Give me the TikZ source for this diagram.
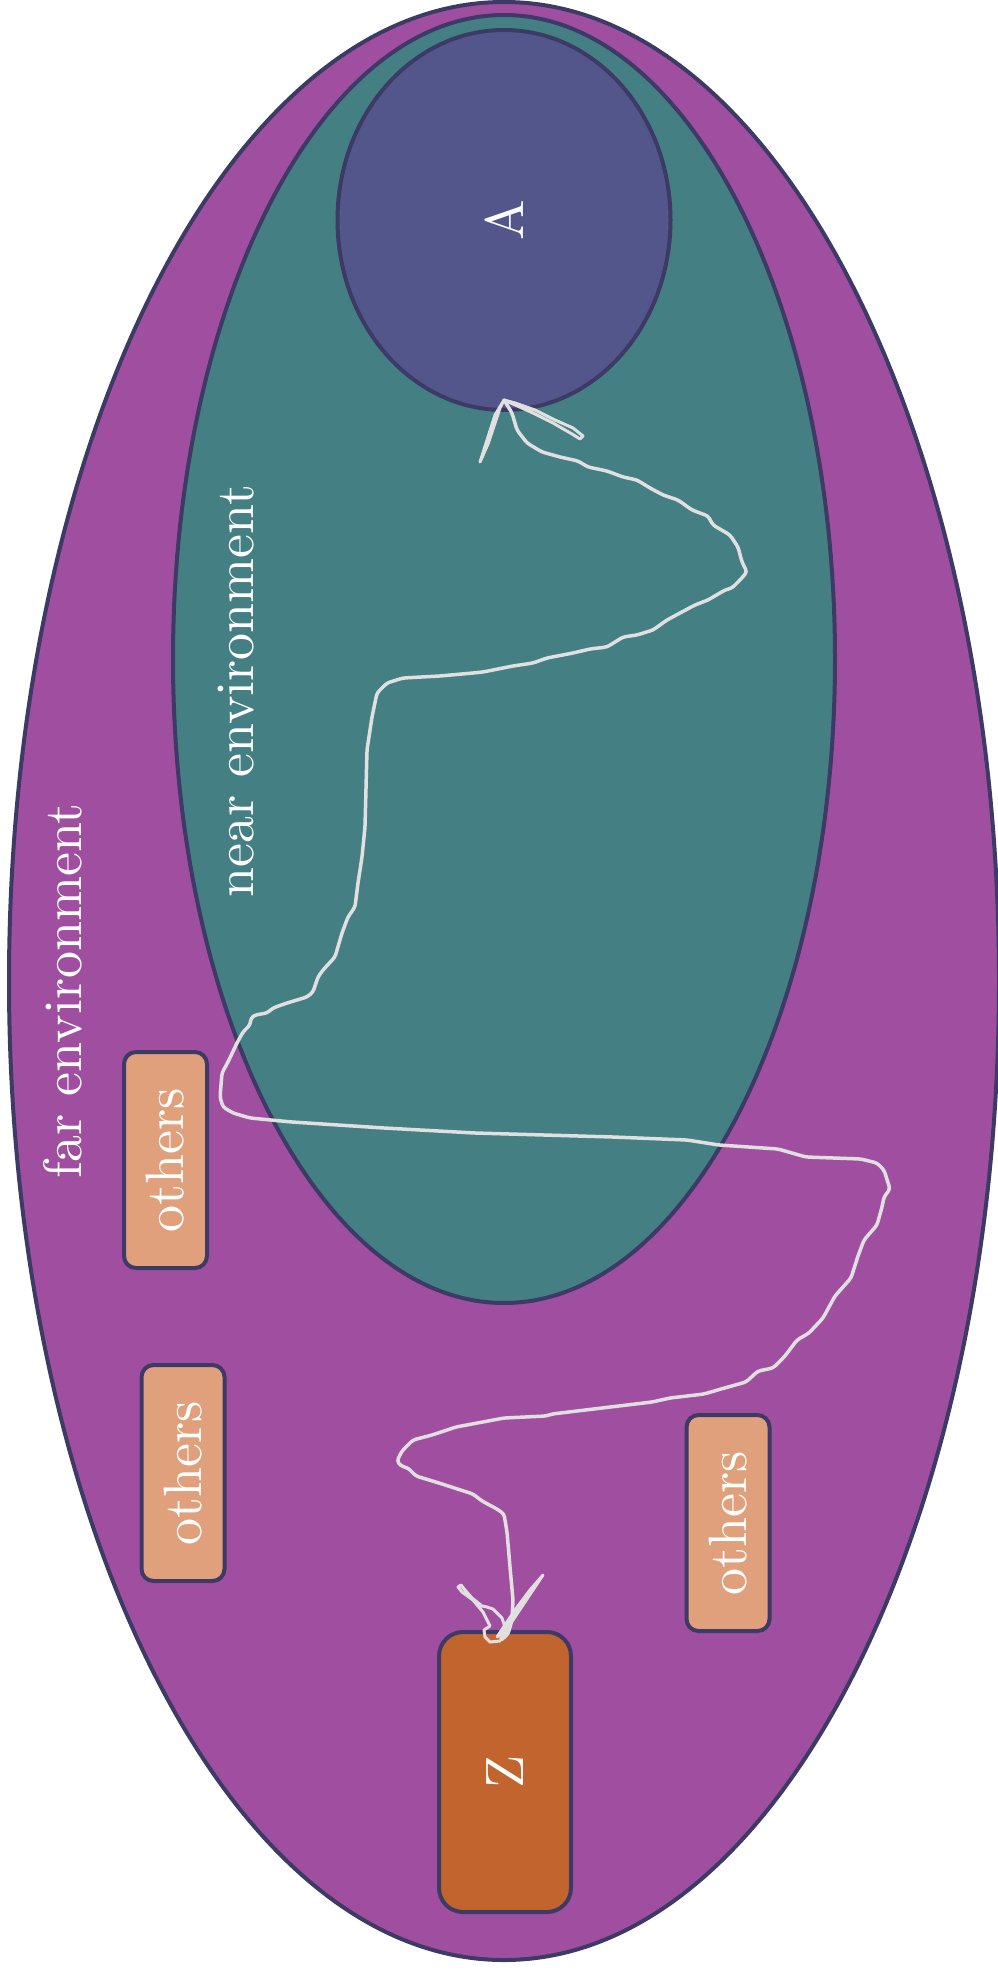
\documentclass[tikz,border=0pt]{standalone}
\usetikzlibrary{calc,shapes.geometric}
\definecolor{farc}{RGB}{160,79,160}
\definecolor{nearc}{RGB}{68,127,132}
\definecolor{ac}{RGB}{82,86,138}
\definecolor{zc}{RGB}{194,100,46}
\definecolor{otherc}{RGB}{224,160,124}
\definecolor{edgec}{RGB}{61,58,102}
\definecolor{trailc}{RGB}{224,224,224}
% 10pt text blown up, rotated to read upwards
\newcommand{\bigup}[1]{\scalebox{5.4}{\rotatebox{90}{#1}}}
\tikzset{
  zone/.style={ellipse, draw=edgec, line width=4pt, inner sep=0pt, text=white},
  tagbox/.style={rectangle, rounded corners=12pt, draw=edgec, line width=4pt,
    fill=otherc, inner sep=0pt, minimum width=83pt, minimum height=216pt, text=white},
  zbox/.style={rectangle, rounded corners=24pt, draw=edgec, line width=4pt,
    fill=zc, inner sep=0pt, minimum width=132pt, minimum height=280pt, text=white},
  lbl/.style={text=white, inner sep=0pt, rotate=90, anchor=base},
  trail/.style={draw=trailc, line width=3.5pt, line join=round, line cap=round},
  barb/.style={draw=trailc, fill=trailc, line width=3pt, line join=round, line cap=round}
}
\begin{document}
\begin{tikzpicture}[x=1pt, y=-1pt]
\useasboundingbox (0,0) rectangle (998,1972);

% nested environments
\node[zone, fill=farc, minimum width=990pt, minimum height=1958pt] (far) at (504,981) {};
\node[zone, fill=nearc, minimum width=662pt, minimum height=1288pt] (near) at (504,659) {};
\node[zone, fill=ac, minimum width=333pt, minimum height=380pt] (A) at (504,220) {\bigup{A}};

\node[lbl] (farlbl) at (81,991) {\scalebox{5.4}{far environment}};
\node[lbl] (nearlbl) at (253,691) {\scalebox{5.4}{near environment}};

% the other agents and the target
\node[tagbox] (o1) at (165.5,1160) {\bigup{others}};
\node[tagbox] (o2) at (183,1473) {\bigup{others}};
\node[tagbox] (o3) at (728,1523) {\bigup{others}};
\node[zbox] (Z) at (505,1772) {\bigup{Z}};

\coordinate (tipA) at ([yshift=12pt]A.south);

% hand-drawn route from Z to A
\draw[trail, rounded corners=3pt] (Z.north) -- (500,1641) -- (508,1634) -- (512,1620) -- (513,1600)
  -- (510,1567) -- (507,1532) -- (504,1514) -- (497,1509) -- (482,1501) -- (473,1494)
  -- (439,1483) -- (416,1476) -- (408,1468) -- (401,1466) -- (397,1461) -- (402,1451)
  -- (413,1440) -- (432,1435) -- (456,1427) -- (504,1418) -- (546,1416) -- (552,1414)
  -- (652,1402) -- (670,1398) -- (704,1394) -- (721,1389) -- (746,1382) -- (758,1371)
  -- (773,1368) -- (785,1356) -- (797,1340) -- (809,1333) -- (823,1318) -- (835,1296)
  -- (851,1278) -- (858,1256) -- (864,1240) -- (877,1225) -- (882,1207) -- (884,1197)
  -- (890,1189) -- (884,1170) -- (877,1163) -- (861,1159) -- (806,1157) -- (778,1149)
  -- (719,1145) -- (687,1140) -- (613,1137) -- (475,1133) -- (384,1128) -- (292,1122)
  -- (250,1118) -- (233,1113) -- (223,1107) -- (220,1097) -- (222,1073) -- (228,1062)
  -- (237,1043) -- (243,1032) -- (250,1025) -- (251,1018) -- (255,1015) -- (267,1013)
  -- (273,1008) -- (287,1003) -- (307,997) -- (313,992) -- (318,977) -- (323,970)
  -- (335,957) -- (342,933) -- (348,917) -- (355,907) -- (358,883) -- (362,857)
  -- (365,827) -- (367,750) -- (372,717) -- (377,693) -- (387,683) -- (403,678)
  -- (440,676) -- (473,673) -- (483,672) -- (513,666) -- (533,663) -- (547,658)
  -- (573,653) -- (590,649) -- (607,647) -- (623,637) -- (637,635) -- (653,630)
  -- (667,620) -- (680,613) -- (695,605) -- (708,600) -- (725,590) -- (732,588)
  -- (740,580) -- (747,572) -- (742,562) -- (738,547) -- (730,535) -- (713,525)
  -- (708,516) -- (692,510) -- (678,500) -- (663,495) -- (650,488) -- (637,480)
  -- (623,477) -- (607,471) -- (588,467) -- (578,461) -- (560,457) -- (542,452)
  -- (527,443) -- (517,430) -- (512,413) -- (tipA);

% scribbled arrow head at A
\draw[barb] (tipA) -- (495,415) -- (480,462) -- (488,444) -- (500,408) -- cycle;
\draw[trail, line width=3pt] (tipA) -- (515,403) -- (535,410) -- (555,420) -- (573,428)
  -- (583,436) -- (580,439) -- (572,434) -- (553,423) -- (533,413) -- (tipA);

% scribbled arrow head at Z
\draw[trail, line width=3pt] (500,1641) -- (490,1642) -- (485,1637) -- (484,1630)
  -- (490,1626) -- (483,1612) -- (473,1600) -- (462,1592) -- (458,1587) -- (461,1585)
  -- (465,1590) -- (472,1598) -- (482,1606) -- (487,1607) -- (493,1609) -- (502,1618)
  -- (505,1627) -- (500,1633);
\draw[barb] (497,1637) -- (515,1610) -- (530,1590) -- (543,1575) -- (525,1602) -- (505,1632) -- cycle;
\end{tikzpicture}
\end{document}
